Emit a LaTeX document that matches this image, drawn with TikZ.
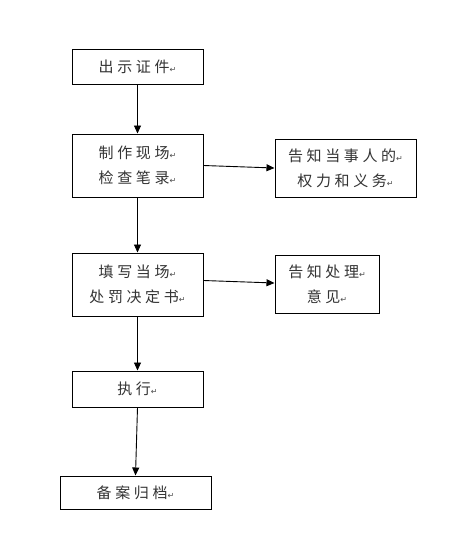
\documentclass[tikz,border=0pt]{standalone}
\usepackage{fontspec}
\newfontfamily\cjk[LetterSpace=24]{Noto Sans CJK SC}
\newfontfamily\dejavu{DejaVu Sans}
\usetikzlibrary{arrows.meta}
\newcommand{\pmark}{{\fontsize{8}{8}\selectfont\dejavu\color{black!70}↵}}
\tikzset{
  box/.style={draw=black, line width=1pt, inner sep=0pt, align=center,
    font=\fontsize{15}{25}\selectfont\cjk, text=black!80},
  arr/.style={draw=black, line width=0.9pt, -{Triangle[length=8pt,width=7pt]}}
}
\begin{document}
\begin{tikzpicture}[x=1pt,y=-1pt]
\useasboundingbox (0,0) rectangle (449,549);
\fill[white] (0,0) rectangle (449,549);
\node[box, minimum width=131pt, minimum height=35pt] (b1) at (137.5,66.5) {出示证件\pmark};
\node[box, minimum width=131pt, minimum height=63pt] (b2) at (137.5,165.5) {制作现场\pmark\\检查笔录\pmark};
\node[box, minimum width=141pt, minimum height=58pt] (b3) at (345.5,168) {告知当事人的\pmark\\权力和义务\pmark};
\node[box, minimum width=131pt, minimum height=63pt] (b4) at (137.5,284.5) {填写当场\pmark\\处罚决定书\pmark};
\node[box, minimum width=104pt, minimum height=58pt] (b5) at (327,284) {告知处理\pmark\\意见\pmark};
\node[box, minimum width=131pt, minimum height=36pt] (b6) at (137.5,389) {执行\pmark};
\node[box, minimum width=151pt, minimum height=33pt] (b7) at (135.5,492.5) {备案归档\pmark};
\draw[arr] (b1.south) -- (b2.north);
\draw[arr] (b2.south) -- (b4.north);
\draw[arr] (b4.south) -- (b6.north);
\draw[arr] (b6.south) -- (b7.north);
\draw[arr] (b2.east) -- (b3.west);
\draw[arr] ([yshift=4pt]b4.east) -- ([yshift=1pt]b5.west);
\end{tikzpicture}
\end{document}
